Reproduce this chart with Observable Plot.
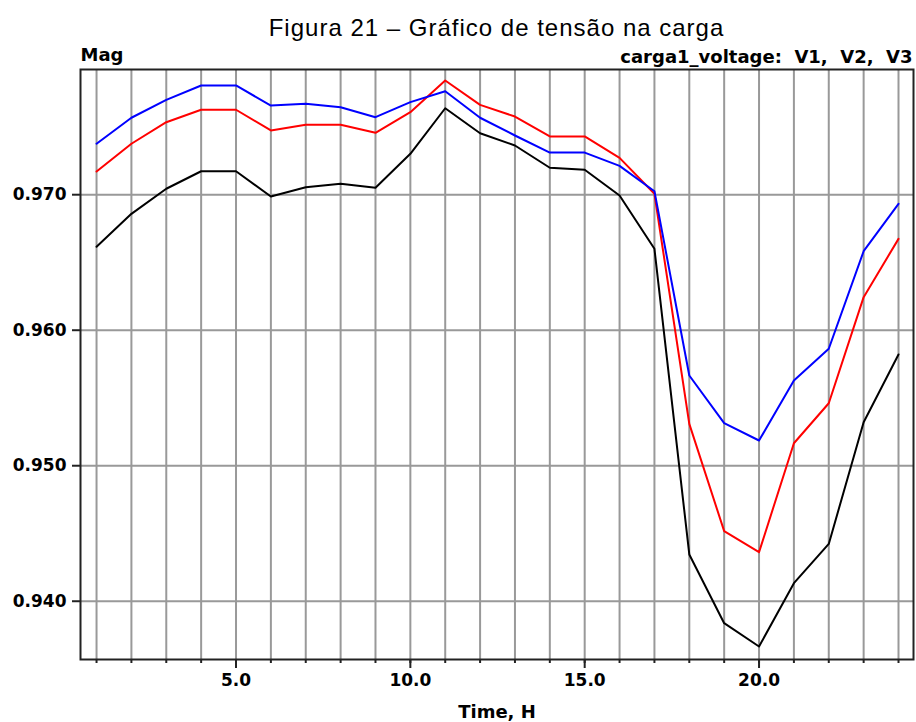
<!DOCTYPE html>
<html><head><meta charset="utf-8">
<script src="https://cdn.jsdelivr.net/npm/d3@7"></script>
<script src="https://cdn.jsdelivr.net/npm/@observablehq/plot@0.6"></script>
<style>
body{margin:0;background:#fff;}
#wrap{position:relative;width:916px;height:722px;}
#title{position:absolute;left:0;top:16px;width:993px;text-align:center;font-family:"Liberation Sans",Arial,sans-serif;font-size:24px;line-height:24px;color:#000;letter-spacing:1px;}
#chart{position:absolute;left:0;top:0;}
</style></head><body>
<div id="wrap"><div id="chart"></div><div id="title">Figura 21 – Gráfico de tensão na carga</div></div>
<script>
const hours = d3.range(1, 25);
const v1 = [0.97376,0.97568,0.97700,0.97806,0.97806,0.97658,0.97671,0.97646,0.97572,0.97683,0.97764,0.97568,0.97437,0.97311,0.97311,0.97213,0.97026,0.95666,0.95314,0.95186,0.95629,0.95863,0.96583,0.96933];
const v2 = [0.97171,0.97376,0.97535,0.97627,0.97627,0.97474,0.97516,0.97516,0.97457,0.97609,0.97843,0.97663,0.97577,0.97430,0.97430,0.97272,0.97007,0.95309,0.94517,0.94362,0.95166,0.95461,0.96244,0.96674];
const v3 = [0.96616,0.96859,0.97044,0.97173,0.97173,0.96987,0.97055,0.97080,0.97051,0.97302,0.97638,0.97454,0.97363,0.97199,0.97184,0.96994,0.96601,0.94345,0.93838,0.93666,0.94133,0.94423,0.95321,0.95821];
const seriesNames = ["V1", "V2", "V3"];
const seriesColors = ["#0000ff", "#ff0000", "#000000"];
const yTicks = [0.940, 0.950, 0.960, 0.970];
const xMajor = [5, 10, 15, 20];

const rows = [];
[v1, v2, v3].forEach((arr, i) => arr.forEach((v, j) => rows.push({hour: hours[j], value: v, series: seriesNames[i]})));
const order = ["V3", "V2", "V1"];
const bold = "'DejaVu Sans', sans-serif";

const chart = Plot.plot({
  width: 916, height: 722,
  marginLeft: 80, marginRight: 3, marginTop: 69, marginBottom: 63,
  style: {fontFamily: bold, background: "#fff", color: "#000"},
  x: {domain: [0.54, 24.43]},
  y: {domain: [0.9357, 0.97924]},
  color: {domain: seriesNames, range: seriesColors},
  marks: [
    Plot.gridX(hours, {stroke: "#999", strokeOpacity: 1, strokeWidth: 2}),
    Plot.gridY(yTicks, {stroke: "#999", strokeOpacity: 1, strokeWidth: 2}),
    Plot.axisX(hours, {tickSize: 4, tickFormat: () => "", label: null, strokeWidth: 2, stroke: "#222"}),
    Plot.axisX(xMajor, {tickSize: 9, tickPadding: 5, tickFormat: d => d.toFixed(1), label: null, fontSize: 17, fontWeight: "bold", strokeWidth: 2, stroke: "#222"}),
    Plot.axisY(yTicks, {tickSize: 8, tickPadding: 6, tickFormat: d => d.toFixed(3), label: null, fontSize: 17, fontWeight: "bold", strokeWidth: 2, stroke: "#222"}),
    ...order.map(s => Plot.line(rows.filter(r => r.series === s), {x: "hour", y: "value", stroke: "series", strokeWidth: 2})),
    Plot.frame({stroke: "#222", strokeWidth: 2}),
    Plot.text(["Mag"], {frameAnchor: "top-left", textAnchor: "start", lineAnchor: "middle", dy: -14, fontSize: 18, fontWeight: "bold"}),
    Plot.text(["carga1_voltage:  V1,  V2,  V3"], {frameAnchor: "top-right", textAnchor: "end", lineAnchor: "middle", dx: -1, dy: -12, fontSize: 18, fontWeight: "bold", style: "white-space:pre"}),
    Plot.text(["Time, H"], {frameAnchor: "bottom", lineAnchor: "middle", dy: 53, fontSize: 18, fontWeight: "bold"})
  ]
});
document.getElementById("chart").appendChild(chart);
</script>
</body></html>
